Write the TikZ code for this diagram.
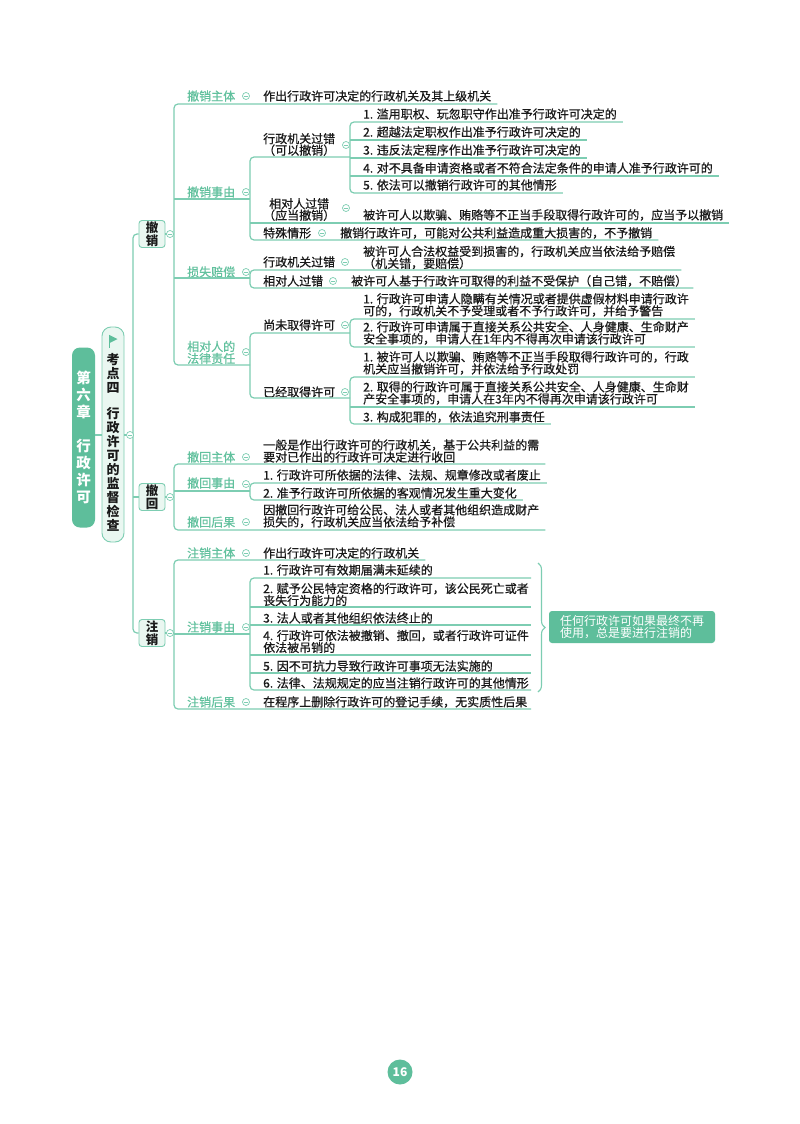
\documentclass[tikz,border=0pt]{standalone}
\usepackage{fontspec}
\newfontfamily\cjk{Noto Sans CJK SC}
\newfontfamily\cjkm[FakeBold=0.6]{Noto Sans CJK SC}
\usetikzlibrary{decorations.pathreplacing}
\definecolor{lnC}{RGB}{125,205,178}
\definecolor{lbC}{RGB}{98,193,158}
\definecolor{rtC}{RGB}{94,190,155}
\definecolor{bxF}{RGB}{234,247,241}
\definecolor{txC}{RGB}{25,25,25}
\tikzset{
 ln/.style={draw=lnC, line width=1.2pt},
 sp/.style={draw=lnC, line width=1.2pt, rounded corners=4pt},
 lbl/.style={anchor=west, inner sep=0pt, text=lbC, align=left, font=\cjkm\fontsize{12}{12}\selectfont},
 blk/.style={anchor=west, inner ysep=0pt, inner xsep=6pt, text=txC, align=center, font=\cjkm\fontsize{12}{11.5}\selectfont},
 txt/.style={anchor=west, inner ysep=0pt, inner xsep=6pt, text=txC, align=left, font=\cjkm\fontsize{12}{12}\selectfont},
 cc/.style={circle, draw=lnC, fill=white, line width=0.7pt, minimum size=7pt, inner sep=0pt,
   path picture={\draw[lnC, line width=0.7pt] ([xshift=-1.8pt]path picture bounding box.center) -- ([xshift=1.8pt]path picture bounding box.center);}},
 bx/.style={draw=lnC, fill=bxF, rounded corners=3pt, line width=0.9pt, minimum width=26pt, minimum height=27pt, inner sep=0pt, align=center, text=txC, font=\cjk\bfseries\fontsize{12.5}{13}\selectfont},
}
\begin{document}
\begin{tikzpicture}[x=1pt,y=-1pt]
\useasboundingbox (0,0) rectangle (800,1124);
\fill[white] (0,0) rectangle (800,1124);

% ---------- root and topic ----------
\node[fill=rtC, rounded corners=8pt, minimum width=23pt, minimum height=180pt, inner sep=0pt, align=center,
      text=white, font=\cjk\bfseries\fontsize{14.5}{17}\selectfont] (root) at (83.5,437.5)
      {第\\六\\章\\[17pt]行\\政\\许\\可};
\node[draw=lnC, fill=bxF, line width=0.9pt, rounded corners=9pt, minimum width=22pt, minimum height=215pt, inner sep=0pt] (kd) at (113,434.5) {};
\node[align=center, inner sep=0pt, text=txC, font=\cjk\bfseries\fontsize{13}{14}\selectfont] (kdt) at (113,442.5)
      {考\\点\\四\\[12pt]行\\政\\许\\可\\的\\监\\督\\检\\查};
\fill[rtC] (109.5,335) -- (117.5,339) -- (109.5,343) -- cycle;
\draw[rtC, line width=1pt] (109.5,334.5) -- (109.5,348);

% ---------- level 1 boxes ----------
\node[bx] (cx) at (152,234) {撤\\销};
\node[bx] (ch) at (152,497) {撤\\回};
\node[bx] (zx) at (152,633) {注\\销};

% ---------- 撤销 ----------
\node[lbl] (cxzt) at (187,96) {撤销主体};
\node[lbl] (cxsy) at (187,192) {撤销事由};
\node[lbl] (ssbc) at (187,272) {损失赔偿};
\node[lbl] (flzr) at (187,352.5) {相对人的\\法律责任};

\node[txt] (cxztc) at (257,96) {作出行政许可决定的行政机关及其上级机关};

\node[blk] (xzgc) at (257,144.5) {行政机关过错\\（可以撤销）};
\node[blk] (xdgc) at (257,209.5) {相对人过错\\（应当撤销）};
\node[txt] (tsqx) at (257,233) {特殊情形};
\node[txt] (i1) at (357,114) {1. 滥用职权、玩忽职守作出准予行政许可决定的};
\node[txt] (i2) at (357,132) {2. 超越法定职权作出准予行政许可决定的};
\node[txt] (i3) at (357,150) {3. 违反法定程序作出准予行政许可决定的};
\node[txt] (i4) at (357,168) {4. 对不具备申请资格或者不符合法定条件的申请人准予行政许可的};
\node[txt] (i5) at (357,185) {5. 依法可以撤销行政许可的其他情形};
\node[txt] (xdgcc) at (357,215) {被许可人以欺骗、贿赂等不正当手段取得行政许可的，应当予以撤销};
\node[txt] (tsqxc) at (334,233) {撤销行政许可，可能对公共利益造成重大损害的，不予撤销};

\node[txt] (pxz) at (257,262) {行政机关过错};
\node[txt] (pxd) at (257,281) {相对人过错};
\node[txt] (pxzc) at (357,257.5) {被许可人合法权益受到损害的，行政机关应当依法给予赔偿\\（机关错，要赔偿）};
\node[txt] (pxdc) at (345,281) {被许可人基于行政许可取得的利益不受保护（自己错，不赔偿）};

\node[txt] (swqd) at (257,325) {尚未取得许可};
\node[txt] (yjqd) at (257,392) {已经取得许可};
\node[txt] (sw1) at (357,305) {1. 行政许可申请人隐瞒有关情况或者提供虚假材料申请行政许\\可的，行政机关不予受理或者不予行政许可，并给予警告};
\node[txt] (sw2) at (357,333) {2. 行政许可申请属于直接关系公共安全、人身健康、生命财产\\安全事项的，申请人在1年内不得再次申请该行政许可};
\node[txt] (yj1) at (357,363) {1. 被许可人以欺骗、贿赂等不正当手段取得行政许可的，行政\\机关应当撤销许可，并依法给予行政处罚};
\node[txt] (yj2) at (357,393) {2. 取得的行政许可属于直接关系公共安全、人身健康、生命财\\产安全事项的，申请人在3年内不得再次申请该行政许可};
\node[txt] (yj3) at (357,417) {3. 构成犯罪的，依法追究刑事责任};

% ---------- 撤回 ----------
\node[lbl] (chzt) at (187,457) {撤回主体};
\node[lbl] (chsy) at (187,483) {撤回事由};
\node[lbl] (chhg) at (187,522) {撤回后果};
\node[txt] (chztc) at (257,451) {一般是作出行政许可的行政机关，基于公共利益的需\\要对已作出的行政许可决定进行收回};
\node[txt] (chy1) at (257,475) {1. 行政许可所依据的法律、法规、规章修改或者废止};
\node[txt] (chy2) at (257,493) {2. 准予行政许可所依据的客观情况发生重大变化};
\node[txt] (chhgc) at (257,516) {因撤回行政许可给公民、法人或者其他组织造成财产\\损失的，行政机关应当依法给予补偿};

% ---------- 注销 ----------
\node[lbl] (zxzt) at (187,553) {注销主体};
\node[lbl] (zxsy) at (187,627) {注销事由};
\node[lbl] (zxhg) at (187,702) {注销后果};
\node[txt] (zxztc) at (257,553) {作出行政许可决定的行政机关};
\node[txt] (z1) at (257,570) {1. 行政许可有效期届满未延续的};
\node[txt] (z2) at (257,594.5) {2. 赋予公民特定资格的行政许可，该公民死亡或者\\丧失行为能力的};
\node[txt] (z3) at (257,618) {3. 法人或者其他组织依法终止的};
\node[txt] (z4) at (257,641.5) {4. 行政许可依法被撤销、撤回，或者行政许可证件\\依法被吊销的};
\node[txt] (z5) at (257,666) {5. 因不可抗力导致行政许可事项无法实施的};
\node[txt] (z6) at (257,683) {6. 法律、法规规定的应当注销行政许可的其他情形};
\node[txt] (zxhgc) at (257,702) {在程序上删除行政许可的登记手续，无实质性后果};
\coordinate (zR) at (531,600);

\node[fill=rtC, rounded corners=3pt, minimum width=166pt, minimum height=32pt, inner sep=0pt, align=left,
      text=white, font=\cjk\fontsize{12}{12.5}\selectfont] (note) at (632,627)
      {任何行政许可如果最终不再\\使用，总是要进行注销的};

% ---------- connectors ----------
\draw[ln] (root.east |- 0,435) -- (kd.west |- 0,435);
\draw[ln] (kd.east |- 0,435) -- (133,435);
\draw[sp] (cx.west) -- (133,234) -- (133,633) -- (zx.west);
\draw[ln] (133,497) -- (ch.west);

% 撤销
\draw[ln] (cx.east) -- (174,234);
\draw[sp] (cxztc.east |- 0,104) -- (174,104) -- (174,365) -- (250,365);
\draw[ln] (174,199) -- (250,199);
\draw[ln] (174,278) -- (250,278);
\draw[sp] (350,157) -- (250,157) -- (250,240) -- (tsqxc.east |- 0,240);
\draw[ln] (250,223) -- (xdgcc.east |- 0,223);
\draw[sp] (i1.east |- 0,122) -- (350,122) -- (350,193) -- (i5.east |- 0,193);
\draw[ln] (350,140) -- (i2.east |- 0,140);
\draw[ln] (350,158) -- (i3.east |- 0,158);
\draw[ln] (350,176) -- (i4.east |- 0,176);
\draw[sp] (pxzc.east |- 0,270) -- (250,270) -- (250,288) -- (pxdc.east |- 0,288);
\draw[sp] (350,333) -- (250,333) -- (250,398) -- (350,398);
\draw[sp] (sw1.east |- 0,319) -- (350,319) -- (350,347) -- (sw2.east |- 0,347);
\draw[sp] (yj1.east |- 0,377) -- (350,377) -- (350,424) -- (yj3.east |- 0,424);
\draw[ln] (350,407) -- (yj2.east |- 0,407);

% 撤回
\draw[ln] (ch.east) -- (174,497);
\draw[sp] (chztc.east |- 0,464) -- (174,464) -- (174,530) -- (chhgc.east |- 0,530);
\draw[ln] (174,491) -- (250,491);
\draw[sp] (chy1.east |- 0,483) -- (250,483) -- (250,500) -- (chy2.east |- 0,500);

% 注销
\draw[ln] (zx.east) -- (174,633);
\draw[sp] (zxztc.east |- 0,560) -- (174,560) -- (174,709) -- (zR |- 0,709);
\draw[ln] (174,634) -- (250,634);
\draw[sp] (zR |- 0,578) -- (250,578) -- (250,690) -- (zR |- 0,690);
\draw[ln] (250,607) -- (zR |- 0,607);
\draw[ln] (250,625) -- (zR |- 0,625);
\draw[ln] (250,655) -- (zR |- 0,655);
\draw[ln] (250,673) -- (zR |- 0,673);
\draw[draw=lnC, line width=1.1pt, decorate, decoration={brace, amplitude=7pt}] (538,563) -- (538,692);

% ---------- collapse circles ----------
\node[cc] (c0) at (130,435) {};
\node[cc] (c1) at (170,234) {};
\node[cc] (c2) at (170,497) {};
\node[cc] (c3) at (170,633) {};
\node[cc] (c4) at (246,96) {};
\node[cc] (c5) at (246,192) {};
\node[cc] (c6) at (246,272) {};
\node[cc] (c7) at (246,352) {};
\node[cc] (c8) at (346,145) {};
\node[cc] (c9) at (346,208) {};
\node[cc] (c10) at (322,233) {};
\node[cc] (c11) at (345,262) {};
\node[cc] (c12) at (333,281) {};
\node[cc] (c13) at (345,325) {};
\node[cc] (c14) at (345,392) {};
\node[cc] (c15) at (246,457) {};
\node[cc] (c16) at (246,484) {};
\node[cc] (c17) at (246,522) {};
\node[cc] (c18) at (246,553) {};
\node[cc] (c19) at (246,627) {};
\node[cc] (c20) at (246,702) {};

% ---------- page number ----------
\node[circle, fill=rtC, minimum size=25pt, inner sep=0pt, text=white, font=\cjk\bfseries\fontsize{12}{12}\selectfont] (pg) at (400,1072) {16};
\end{tikzpicture}
\end{document}
